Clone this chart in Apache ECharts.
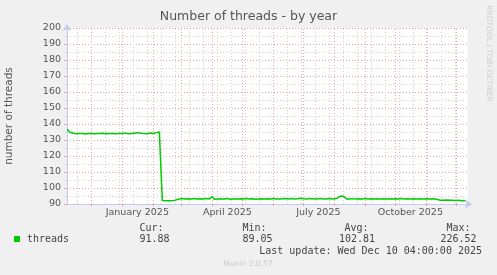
<!DOCTYPE html>
<html><head><meta charset="utf-8">
<script src="https://cdn.jsdelivr.net/npm/echarts@6/dist/echarts.min.js"></script>
<style>html,body{margin:0;padding:0;background:#f0f0f0}#c{width:497px;height:275px}</style>
</head><body><div id="c"></div>
<script>
const dates = [
'2024-11-07','2024-11-08','2024-11-09','2024-11-10','2024-11-13','2024-11-16','2024-11-19','2024-11-22','2024-11-25','2024-11-28',
'2024-12-01','2024-12-04','2024-12-07','2024-12-10','2024-12-13','2024-12-16','2024-12-19','2024-12-22','2024-12-25','2024-12-28','2024-12-31',
'2025-01-03','2025-01-06','2025-01-09','2025-01-12','2025-01-14','2025-01-17','2025-01-20','2025-01-23','2025-01-26','2025-01-29',
'2025-02-01','2025-02-04','2025-02-07','2025-02-09','2025-02-10','2025-02-14','2025-02-18','2025-02-22','2025-02-24','2025-02-27',
'2025-03-02','2025-03-05','2025-03-08','2025-03-11','2025-03-14','2025-03-17','2025-03-20','2025-03-23','2025-03-26','2025-03-29',
'2025-04-01','2025-04-03','2025-04-05','2025-04-07','2025-04-10','2025-04-13','2025-04-16','2025-04-19','2025-04-21','2025-04-23','2025-04-26','2025-04-29',
'2025-05-02','2025-05-05','2025-05-08','2025-05-11','2025-05-14','2025-05-17','2025-05-20','2025-05-23','2025-05-26','2025-05-29',
'2025-06-01','2025-06-04','2025-06-07','2025-06-10','2025-06-13','2025-06-16','2025-06-19','2025-06-22','2025-06-25','2025-06-28',
'2025-07-01','2025-07-04','2025-07-07','2025-07-10','2025-07-13','2025-07-16','2025-07-19','2025-07-22','2025-07-25','2025-07-28','2025-07-31',
'2025-08-03','2025-08-05','2025-08-07','2025-08-10','2025-08-12','2025-08-14','2025-08-15','2025-08-16','2025-08-17','2025-08-20','2025-08-23','2025-08-26','2025-08-29',
'2025-09-01','2025-09-04','2025-09-07','2025-09-10','2025-09-13','2025-09-16','2025-09-19','2025-09-22','2025-09-25','2025-09-28',
'2025-10-01','2025-10-04','2025-10-07','2025-10-10','2025-10-13','2025-10-16','2025-10-18','2025-10-20','2025-10-23','2025-10-26','2025-10-29',
'2025-11-01','2025-11-04','2025-11-07','2025-11-10','2025-11-12','2025-11-15','2025-11-18','2025-11-21','2025-11-24','2025-11-27','2025-11-30',
'2025-12-03','2025-12-06','2025-12-09','2025-12-10'
];
const threads = [
136.8,137.4,135.0,134.0,134.2,133.9,134.1,134.0,133.8,134.0,
134.1,133.9,134.0,134.0,134.2,133.9,134.0,134.0,133.9,134.1,134.0,
134.3,134.0,133.9,134.2,134.8,134.6,134.2,134.0,133.9,134.4,
134.1,134.6,135.0,135.0,92.2,92.1,92.0,92.2,93.4,93.2,
93.4,93.1,93.3,93.2,93.4,93.1,93.3,93.2,93.4,93.2,
94.6,93.0,92.3,93.2,93.3,93.1,93.4,93.0,92.2,93.3,93.2,93.3,
93.1,93.4,93.2,93.3,93.0,93.2,93.3,93.1,93.3,93.2,
93.4,93.2,93.1,93.3,93.5,93.2,93.4,93.1,93.3,93.6,
93.3,93.2,93.4,93.3,93.1,93.3,93.4,93.2,93.3,93.4,93.2,
93.4,94.4,94.9,94.8,94.6,93.0,92.0,92.3,93.3,93.3,93.2,93.3,93.2,
93.4,93.1,93.3,93.2,93.3,93.1,93.3,93.2,93.3,93.1,
93.3,93.2,93.4,93.2,93.3,93.2,92.2,93.3,93.2,93.3,93.1,
93.3,93.2,93.3,93.1,92.5,92.4,92.3,92.5,92.3,92.4,92.2,
92.4,92.0,92.1,91.9
];
const axisStart = '2024-11-06T16:00:00Z';
const axisEnd = '2025-12-12T16:00:00Z';
const yMin = 90, yMax = 200, yStep = 10;
const monthLines = ['2024-12-01','2025-01-01','2025-02-01','2025-03-01','2025-04-01','2025-05-01','2025-06-01','2025-07-01','2025-08-01','2025-09-01','2025-10-01','2025-11-01','2025-12-01'];
const weekLines = ['2024-11-17','2024-12-15','2024-12-29','2025-01-12','2025-01-26','2025-02-09','2025-02-23','2025-03-09','2025-03-23','2025-04-06','2025-04-20','2025-05-04','2025-05-18','2025-06-01','2025-06-15','2025-06-29','2025-07-13','2025-07-27','2025-08-10','2025-08-24','2025-09-07','2025-09-21','2025-10-05','2025-10-19','2025-11-02','2025-11-16','2025-11-30'];
const labelDates = ['2025-01-16','2025-04-16','2025-07-16','2025-10-16'];
const labelTexts = ['January 2025','April 2025','July 2025','October 2025'];
const statHeaders = ['Cur:','Min:','Avg:','Max:'];
const statValues = ['91.88','89.05','102.81','226.52'];
const lastUpdate = 'Last update: Wed Dec 10 04:00:00 2025';

const ts = s => Date.parse(s.length === 10 ? s + 'T00:00:00Z' : s);
const RED = '#eaa6a6', GRAY = '#d2d2d2', AXIS = '#c4caf4', TXT = '#555';
const SANS = 'DejaVu Sans', MONO = 'DejaVu Sans Mono';
const labelTs = labelDates.map(ts);
const seriesData = dates.map((d, i) => [ts(d), threads[i]]);

const chart = echarts.init(document.getElementById('c'), null, {renderer: 'canvas'});
const hdrRight = [163.5, 266.5, 368.5, 470.5];
const valRight = [169.5, 272.5, 375, 476.5];
const graphics = [];
statHeaders.forEach((h, i) => graphics.push({type:'text', x: hdrRight[i], y: 228.5, style:{text:h, fill:'#444', font:'10px "'+MONO+'"', textAlign:'right', textVerticalAlign:'middle'}}));
statValues.forEach((v, i) => graphics.push({type:'text', x: valRight[i], y: 239.5, style:{text:v, fill:'#444', font:'10px "'+MONO+'"', textAlign:'right', textVerticalAlign:'middle'}}));
graphics.push({type:'text', x: 482, y: 251, style:{text:lastUpdate, fill:'#444', font:'10px "'+MONO+'"', textAlign:'right', textVerticalAlign:'middle'}});
graphics.push({type:'text', x: 248, y: 264.5, style:{text:'Munin 2.0.57', fill:'#c8c8c8', font:'7.5px "'+SANS+'"', textAlign:'center', textVerticalAlign:'middle'}});
graphics.push({type:'text', x: 488.5, y: 53.5, rotation: -Math.PI/2, style:{text:'RRDTOOL / TOBI OETIKER', fill:'#cccccc', font:'7.5px "'+SANS+'"', textAlign:'center', textVerticalAlign:'middle'}});

chart.setOption({
  animation: false,
  backgroundColor: '#f0f0f0',
  textStyle: {fontFamily: SANS},
  title: {text: 'Number of threads - by year', left: 'center', top: 10, padding: 0,
    textStyle: {fontFamily: SANS, fontSize: 12.5, fontWeight: 'normal', color: TXT}},
  legend: {data: ['threads'], left: 14, top: 234, padding: 0, icon: 'rect', itemWidth: 6, itemHeight: 6,
    textStyle: {fontFamily: MONO, fontSize: 10, color: '#444', padding: [0,0,0,2]}},
  grid: {left: 67, right: 29, top: 28, bottom: 71, show: true, backgroundColor: '#ffffff', borderWidth: 0, containLabel: false, outerBoundsMode: 'none'},
  xAxis: {
    type: 'value', min: ts(axisStart), max: ts(axisEnd),
    axisLine: {show: true, onZero: false, lineStyle: {color: AXIS, width: 1}, symbol: ['none','arrow'], symbolSize: [7,7], symbolOffset: [0,4]},
    axisTick: {show: true, customValues: monthLines.map(ts), length: 2, lineStyle: {color: RED}},
    axisLabel: {customValues: labelTs, formatter: v => labelTexts[labelTs.indexOf(v)] || '', fontFamily: SANS, fontSize: 9.5, color: TXT, margin: 4, hideOverlap: false, showMinLabel: true, showMaxLabel: true},
    splitLine: {show: false}, minorTick: {show: false}
  },
  yAxis: {
    type: 'value', min: yMin, max: yMax, interval: yStep,
    name: 'number of threads', nameLocation: 'middle', nameGap: 52, nameRotate: 90,
    nameTextStyle: {fontFamily: SANS, fontSize: 10.5, color: TXT},
    axisLine: {show: true, onZero: false, lineStyle: {color: AXIS, width: 1}, symbol: ['none','arrow'], symbolSize: [7,7], symbolOffset: [0,4]},
    axisTick: {show: true, length: 3, lineStyle: {color: RED}},
    minorTick: {show: true, splitNumber: 2, length: 2, lineStyle: {color: GRAY}},
    axisLabel: {fontFamily: SANS, fontSize: 9.5, color: TXT, margin: 6},
    splitLine: {show: true, lineStyle: {color: RED, type: [1,2], width: 1}},
    minorSplitLine: {show: true, lineStyle: {color: GRAY, type: [1,2], width: 1}}
  },
  graphic: graphics,
  series: [
    {name: 'grid', type: 'line', data: [], z: 1, silent: true,
     markLine: {silent: true, symbol: ['none','none'], label: {show: false}, animation: false,
       data: weekLines.map(d => ({xAxis: ts(d), lineStyle: {color: GRAY, type: [1,2], width: 1}}))
         .concat(monthLines.map(d => ({xAxis: ts(d), lineStyle: {color: RED, type: [1,2], width: 1}})))}},
    {name: 'threads', type: 'line', data: seriesData, showSymbol: false, z: 5,
     lineStyle: {color: '#00cc00', width: 1.5}, itemStyle: {color: '#00cc00'}}
  ]
});
</script></body></html>
